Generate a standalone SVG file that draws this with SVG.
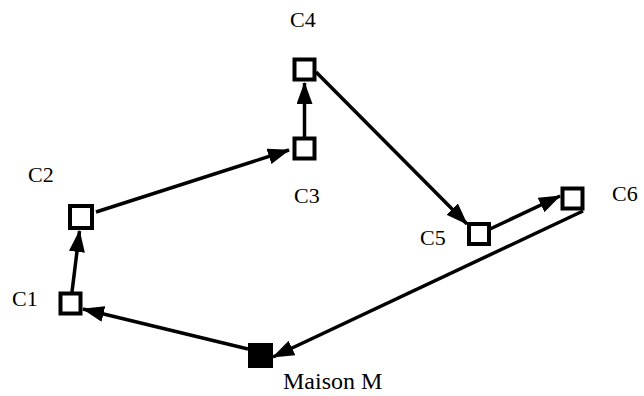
<svg xmlns="http://www.w3.org/2000/svg" width="644" height="396" viewBox="0 0 644 396">
<style>
.node{fill:#fff;stroke:#000;stroke-width:4}
.home{fill:#000;stroke:#000;stroke-width:2}
.lbl{font-family:"Liberation Serif","Times New Roman",serif;font-size:22px;fill:#000}
.lblM{font-family:"Liberation Serif","Times New Roman",serif;font-size:24px;fill:#000}
.edge{stroke:#000;stroke-width:3.5;fill:none;marker-end:url(#ah)}
</style>
<defs>
<marker id="ah" markerUnits="userSpaceOnUse" markerWidth="22" markerHeight="16" refX="21" refY="8" orient="auto" viewBox="0 0 22 16">
<path d="M0,0 L22,8 L0,16 Z" fill="#000"/>
</marker>
</defs>
<g id="connectors">
<line class="edge" x1="72" y1="292" x2="79.5" y2="231"/>
<line class="edge" x1="96" y1="212" x2="289" y2="150"/>
<line class="edge" x1="304.5" y1="137" x2="304.5" y2="83"/>
<line class="edge" x1="316" y1="72" x2="467" y2="224"/>
<line class="edge" x1="490" y1="229" x2="560" y2="196"/>
<line class="edge" x1="583" y1="211" x2="273" y2="357"/>
<line class="edge" x1="248" y1="349" x2="83" y2="309"/>
</g>
<g id="C1"><rect class="node" x="60.5" y="293.5" width="20" height="20"/><text class="lbl" x="12" y="306">C1</text></g>
<g id="C2"><rect class="node" x="70" y="206" width="22" height="22"/><text class="lbl" x="28" y="182">C2</text></g>
<g id="C3"><rect class="node" x="294.5" y="138.5" width="20" height="20"/><text class="lbl" x="294" y="203">C3</text></g>
<g id="C4"><rect class="node" x="294.5" y="59.5" width="20" height="20"/><text class="lbl" x="290" y="27">C4</text></g>
<g id="C5"><rect class="node" x="469" y="224" width="20" height="20"/><text class="lbl" x="420" y="245">C5</text></g>
<g id="C6"><rect class="node" x="562.5" y="188.5" width="20" height="20"/><text class="lbl" x="612" y="201">C6</text></g>
<g id="M"><rect class="home" x="249" y="344" width="23" height="23"/><text class="lblM" x="283" y="389">Maison M</text></g>
</svg>
